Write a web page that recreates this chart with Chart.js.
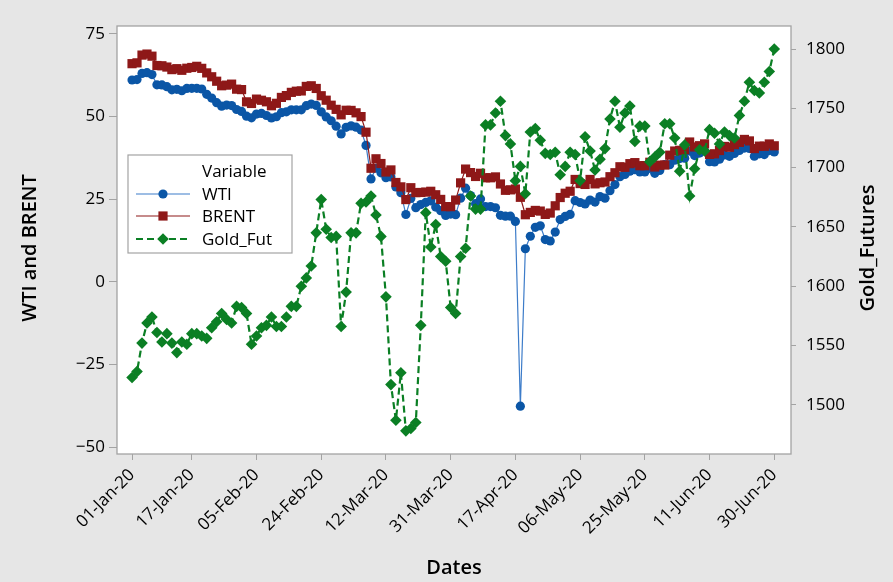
<!DOCTYPE html>
<html>
<head>
<meta charset="utf-8">
<title>WTI, BRENT and Gold Futures</title>
<script src="https://cdn.jsdelivr.net/npm/chart.js@4.4.1/dist/chart.umd.min.js"></script>
<style>
    html, body { margin: 0; padding: 0; background: #e6e6e6; }
    #chart { display: block; }
</style>
</head>
<body>
<canvas id="chart" width="893" height="582"></canvas>
<script>
// weekday categories, 01-Jan-20 .. 30-Jun-20
const dates = [
    '01-Jan-20','02-Jan-20','03-Jan-20','06-Jan-20','07-Jan-20','08-Jan-20','09-Jan-20','10-Jan-20','13-Jan-20','14-Jan-20','15-Jan-20','16-Jan-20',
    '17-Jan-20','20-Jan-20','21-Jan-20','22-Jan-20','23-Jan-20','24-Jan-20','27-Jan-20','28-Jan-20','29-Jan-20','30-Jan-20','31-Jan-20',
    '03-Feb-20','04-Feb-20','05-Feb-20','06-Feb-20','07-Feb-20','10-Feb-20','11-Feb-20','12-Feb-20','13-Feb-20','14-Feb-20','17-Feb-20',
    '18-Feb-20','19-Feb-20','20-Feb-20','21-Feb-20','24-Feb-20','25-Feb-20','26-Feb-20','27-Feb-20','28-Feb-20',
    '02-Mar-20','03-Mar-20','04-Mar-20','05-Mar-20','06-Mar-20','09-Mar-20','10-Mar-20','11-Mar-20','12-Mar-20','13-Mar-20','16-Mar-20',
    '17-Mar-20','18-Mar-20','19-Mar-20','20-Mar-20','23-Mar-20','24-Mar-20','25-Mar-20','26-Mar-20','27-Mar-20','30-Mar-20','31-Mar-20',
    '01-Apr-20','02-Apr-20','03-Apr-20','06-Apr-20','07-Apr-20','08-Apr-20','09-Apr-20','10-Apr-20','13-Apr-20','14-Apr-20','15-Apr-20',
    '16-Apr-20','17-Apr-20','20-Apr-20','21-Apr-20','22-Apr-20','23-Apr-20','24-Apr-20','27-Apr-20','28-Apr-20','29-Apr-20','30-Apr-20',
    '01-May-20','04-May-20','05-May-20','06-May-20','07-May-20','08-May-20','11-May-20','12-May-20','13-May-20','14-May-20','15-May-20',
    '18-May-20','19-May-20','20-May-20','21-May-20','22-May-20','25-May-20','26-May-20','27-May-20','28-May-20','29-May-20',
    '01-Jun-20','02-Jun-20','03-Jun-20','04-Jun-20','05-Jun-20','08-Jun-20','09-Jun-20','10-Jun-20','11-Jun-20','12-Jun-20','15-Jun-20',
    '16-Jun-20','17-Jun-20','18-Jun-20','19-Jun-20','22-Jun-20','23-Jun-20','24-Jun-20','25-Jun-20','26-Jun-20','29-Jun-20','30-Jun-20'
];
const xTickIdx = [0, 12, 25, 38, 51, 64, 77, 90, 103, 116, 129];
const leftTicks = [-50, -25, 0, 25, 50, 75];
const rightTicks = [1500, 1550, 1600, 1650, 1700, 1750, 1800];

const wti = [
    61.06, 61.18, 63.05, 63.27, 62.70, 59.61, 59.56, 59.04, 58.08, 58.23, 57.81, 58.52, 58.54, 58.54, 58.34, 56.74, 55.59, 54.19, 53.14, 53.48,
    53.33, 52.14, 51.56, 50.11, 49.61, 50.75, 50.95, 50.32, 49.57, 49.94, 51.17, 51.42, 52.05, 52.05, 52.05, 53.29, 53.78, 53.38, 51.43, 49.90,
    48.73, 47.09, 44.76, 46.75, 47.18, 46.78, 45.90, 41.28, 31.13, 34.36, 32.98, 31.50, 31.73, 28.70, 26.95, 20.37, 25.22, 22.43, 23.36, 24.01,
    24.49, 22.60, 21.51, 20.09, 20.48, 20.31, 25.32, 28.34, 26.08, 23.63, 25.09, 22.76, 22.76, 22.41, 20.11, 19.87, 19.87, 18.27, -37.63, 10.01,
    13.78, 16.50, 16.94, 12.78, 12.34, 15.06, 18.84, 19.78, 20.39, 24.56, 23.99, 23.55, 24.74, 24.14, 25.78, 25.29, 27.56, 29.43, 31.82, 32.50,
    33.49, 33.92, 33.25, 33.25, 34.35, 32.81, 33.71, 35.49, 35.44, 36.81, 37.29, 37.41, 39.55, 38.19, 38.94, 39.60, 36.34, 36.26, 37.12, 38.38,
    37.96, 38.84, 39.75, 40.46, 40.37, 38.01, 38.72, 38.49, 39.70, 39.27
];
const brent = [
    66.00, 66.25, 68.60, 68.91, 68.27, 65.44, 65.37, 64.98, 64.20, 64.49, 64.00, 64.62, 64.85, 65.20, 64.59, 63.21, 62.04, 60.69, 59.32, 59.51,
    59.81, 58.29, 58.16, 54.45, 53.96, 55.28, 54.93, 54.47, 53.27, 54.01, 55.79, 56.34, 57.32, 57.67, 57.75, 59.12, 59.31, 58.50, 56.30, 54.95,
    53.43, 52.18, 50.52, 51.90, 51.86, 51.13, 49.99, 45.27, 34.36, 37.22, 35.79, 33.22, 33.85, 30.05, 28.73, 24.88, 28.47, 26.98, 27.03, 27.15,
    27.39, 26.34, 24.93, 22.76, 22.74, 24.74, 29.94, 34.11, 33.05, 31.87, 32.84, 31.48, 31.48, 31.74, 29.60, 27.69, 27.82, 28.08, 25.57, 20.30,
    21.00, 21.60, 21.40, 20.40, 20.80, 23.00, 25.50, 26.80, 27.40, 30.97, 29.72, 29.46, 30.97, 29.63, 29.98, 30.20, 31.80, 33.00, 34.81, 34.65,
    35.75, 36.06, 35.13, 35.13, 36.17, 34.74, 35.29, 35.33, 38.32, 39.57, 39.79, 39.99, 42.30, 40.80, 41.18, 41.73, 38.55, 38.73, 39.72, 40.96,
    40.71, 41.51, 42.19, 43.08, 42.63, 40.31, 41.05, 41.02, 41.71, 41.15
];
const goldFut = [
    1523, 1528, 1552, 1569, 1574, 1561, 1553, 1560, 1552, 1544, 1553, 1551, 1560, 1560, 1558, 1556, 1565, 1570, 1577, 1572,
    1569, 1583, 1582, 1577, 1551, 1558, 1565, 1567, 1574, 1566, 1566, 1574, 1583, 1583, 1600, 1607, 1617, 1645, 1673, 1648,
    1641, 1642, 1566, 1595, 1645, 1645, 1670, 1671, 1676, 1660, 1642, 1591, 1517, 1487, 1527, 1478, 1480, 1485, 1567, 1662,
    1633, 1652, 1625, 1621, 1582, 1577, 1625, 1632, 1676, 1665, 1665, 1736, 1736, 1746, 1756, 1727, 1720, 1689, 1701, 1678,
    1730, 1733, 1723, 1712, 1711, 1713, 1694, 1701, 1713, 1711, 1689, 1726, 1714, 1698, 1707, 1716, 1741, 1756, 1734, 1746,
    1752, 1722, 1735, 1735, 1705, 1709, 1713, 1737, 1737, 1725, 1697, 1719, 1676, 1699, 1715, 1714, 1732, 1729, 1720, 1730,
    1727, 1725, 1744, 1756, 1772, 1765, 1763, 1772, 1781, 1800
];

const FONT = '"Open Sans", "Noto Sans", sans-serif';
const FRAME = '#a3a3a3';
const toPoints = arr => arr.map((v, i) => ({ x: i, y: v }));
const minus = v => (v < 0 ? '\u2212' + Math.abs(v) : String(v));

// little marker helper, used for the legend
function marker(ctx, style, x, y, r, color) {
    ctx.fillStyle = color;
    ctx.beginPath();
    if (style === 'circle') {
        ctx.arc(x, y, r, 0, Math.PI * 2);
    } else if (style === 'rect') {
        const s = r * Math.SQRT1_2;
        ctx.rect(x - s, y - s, 2 * s, 2 * s);
    } else {
        ctx.moveTo(x, y - r); ctx.lineTo(x + r, y); ctx.lineTo(x, y + r); ctx.lineTo(x - r, y);
        ctx.closePath();
    }
    ctx.fill();
}

const framePlugin = {
    id: 'frame',
    beforeDraw(chart) {
        const { ctx, chartArea: a } = chart;
        ctx.save();
        ctx.fillStyle = '#e6e6e6';
        ctx.fillRect(0, 0, chart.width, chart.height);
        ctx.fillStyle = '#ffffff';
        ctx.fillRect(a.left, a.top, a.right - a.left, a.bottom - a.top);
        ctx.restore();
    },
    beforeDatasetsDraw(chart) {
        const { ctx, chartArea: a } = chart;
        ctx.save();
        ctx.strokeStyle = FRAME;
        ctx.lineWidth = 1.3;
        ctx.strokeRect(a.left, a.top, a.right - a.left, a.bottom - a.top);
        ctx.restore();
    },
    afterDatasetsDraw(chart) {
        // legend box
        const ctx = chart.ctx;
        ctx.save();
        ctx.fillStyle = '#ffffff';
        ctx.fillRect(128, 155, 164, 98);
        ctx.strokeStyle = FRAME;
        ctx.lineWidth = 1.2;
        ctx.strokeRect(128, 155, 164, 98);
        ctx.fillStyle = '#000';
        ctx.font = '17px ' + FONT;
        ctx.textBaseline = 'middle';
        ctx.fillText('Variable', 202, 172);
        const rows = [194, 216, 239];
        chart.data.datasets.forEach((ds, i) => {
            const y = rows[i];
            ctx.save();
            ctx.strokeStyle = ds.borderColor;
            ctx.lineWidth = ds.borderWidth;
            ctx.setLineDash(ds.borderDash || []);
            ctx.beginPath();
            ctx.moveTo(136, y);
            ctx.lineTo(190, y);
            ctx.stroke();
            ctx.restore();
            marker(ctx, ds.pointStyle, 163, y, ds.pointRadius, ds.pointBackgroundColor);
            ctx.fillStyle = '#000';
            ctx.fillText(ds.label, 202, y + 1);
        });
        ctx.restore();
    },
    afterDraw(chart) {
        // axis titles
        const ctx = chart.ctx;
        ctx.save();
        ctx.fillStyle = '#000';
        ctx.font = '600 20px ' + FONT;
        ctx.textAlign = 'center';
        ctx.textBaseline = 'middle';
        ctx.fillText('Dates', 454, 568);
        ctx.translate(30, 248);
        ctx.rotate(-Math.PI / 2);
        ctx.fillText('WTI and BRENT', 0, 0);
        ctx.restore();
        ctx.save();
        ctx.fillStyle = '#000';
        ctx.font = '600 20px ' + FONT;
        ctx.textAlign = 'center';
        ctx.textBaseline = 'middle';
        ctx.translate(868, 248);
        ctx.rotate(-Math.PI / 2);
        ctx.fillText('Gold_Futures', 0, 0);
        ctx.restore();
    }
};

const ctx = document.getElementById('chart').getContext('2d');
const chart = new Chart(ctx, {
    type: 'line',
    data: {
        datasets: [
            {
                label: 'WTI', data: toPoints(wti), yAxisID: 'y',
                borderColor: '#3d7cc9', borderWidth: 1.2,
                pointStyle: 'circle', pointRadius: 4.6,
                pointBackgroundColor: '#0b56a6', pointBorderColor: '#0b56a6', pointBorderWidth: 0,
                order: 3
            },
            {
                label: 'BRENT', data: toPoints(brent), yAxisID: 'y',
                borderColor: '#8e1818', borderWidth: 1.2,
                pointStyle: 'rect', pointRadius: 6.5,
                pointBackgroundColor: '#8e1818', pointBorderColor: '#8e1818', pointBorderWidth: 0,
                order: 2
            },
            {
                label: 'Gold_Fut', data: toPoints(goldFut), yAxisID: 'y2',
                borderColor: '#0b7f24', borderWidth: 2.2, borderDash: [7, 4],
                pointStyle: 'rectRot', pointRadius: 5.8,
                pointBackgroundColor: '#0b7f24', pointBorderColor: '#0b7f24', pointBorderWidth: 0,
                order: 1
            }
        ]
    },
    options: {
        responsive: false,
        animation: false,
        layout: { padding: { top: 26, left: 0, right: 0, bottom: 0 } },
        elements: { line: { tension: 0 } },
        plugins: { legend: { display: false }, tooltip: { enabled: false } },
        scales: {
            x: {
                type: 'linear', min: -3.02, max: 132.36,
                afterBuildTicks: s => { s.ticks = xTickIdx.map(v => ({ value: v })); },
                afterFit: s => { s.height = 128; },
                border: { display: false },
                grid: { drawOnChartArea: false, drawTicks: true, tickLength: 6, tickColor: FRAME, color: FRAME },
                ticks: {
                    autoSkip: false, minRotation: 45, maxRotation: 45, padding: 5,
                    color: '#000', font: { family: FONT, size: 17 },
                    callback: v => dates[v]
                }
            },
            y: {
                position: 'left', min: -52.1, max: 77.4,
                afterBuildTicks: s => { s.ticks = leftTicks.map(v => ({ value: v })); },
                afterFit: s => { s.width = 117; },
                border: { display: false },
                grid: { drawOnChartArea: false, drawTicks: true, tickLength: 8, tickColor: FRAME, color: FRAME },
                ticks: { padding: 4, color: '#000', font: { family: FONT, size: 17 }, callback: v => minus(v) }
            },
            y2: {
                position: 'right', min: 1458.5, max: 1819.4,
                afterBuildTicks: s => { s.ticks = rightTicks.map(v => ({ value: v })); },
                afterFit: s => { s.width = 102; },
                border: { display: false },
                grid: { drawOnChartArea: false, drawTicks: true, tickLength: 5, tickColor: FRAME, color: FRAME },
                ticks: { padding: 10, color: '#000', font: { family: FONT, size: 17 }, callback: v => String(v) }
            }
        }
    },
    plugins: [framePlugin]
});
</script>
</body>
</html>
